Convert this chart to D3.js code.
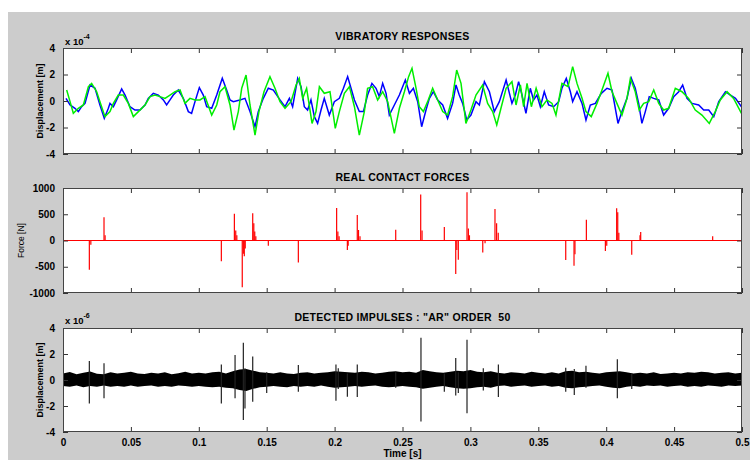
<!DOCTYPE html>
<html><head><meta charset="utf-8">
<script src="https://cdn.jsdelivr.net/npm/d3@7/dist/d3.min.js"></script>
<style>
body{margin:0;background:#fff}
svg{display:block}
text{font-family:"Liberation Sans",Arial,sans-serif;fill:#000;white-space:pre}
</style>
</head><body>
<svg id="chart" width="750" height="460"></svg>
<script>
// ---------- DATA ----------
const timeTicks = [0, 0.05, 0.1, 0.15, 0.2, 0.25, 0.3, 0.35, 0.4, 0.45, 0.5];
const timeTickLabels = ["0", "0.05", "0.1", "0.15", "0.2", "0.25", "0.3", "0.35", "0.4", "0.45", "0.5"];
const dispTicks = [-4, -2, 0, 2, 4];
const dispTickLabels = ["-4", "-2", "0", "2", "4"];
const forceTicks = [-1000, -500, 0, 500, 1000];
const forceTickLabels = ["-1000", "-500", "0", "500", "1000"];
const titles = ["VIBRATORY RESPONSES", "REAL CONTACT FORCES", "DETECTED IMPULSES : \"AR\" ORDER  50"];

// vibratory responses, [time s, displacement x1e-4 m]
const blueResponse = [
[0.0022,0.20],[0.0052,-0.30],[0.0088,-0.55],[0.0113,-0.80],[0.0137,-0.43],[0.0162,-0.18],[0.0199,1.21],[0.0236,0.96],
[0.0272,-0.30],[0.0304,-1.31],[0.0334,-0.55],[0.0346,-0.18],[0.0371,-0.43],[0.0395,0.08],[0.0432,0.91],[0.0457,0.45],
[0.0493,-0.43],[0.0530,-0.68],[0.0567,-0.68],[0.0604,-0.30],[0.0628,0.20],[0.0665,0.58],[0.0702,0.45],[0.0739,0.08],
[0.0763,-0.30],[0.0788,0.08],[0.0812,0.45],[0.0849,0.83],[0.0886,0.20],[0.0923,-0.80],[0.0947,-0.93],[0.0972,-0.05],
[0.1004,1.01],[0.1033,0.45],[0.1058,-0.43],[0.1095,-0.55],[0.1132,0.45],[0.1173,1.71],[0.1205,0.83],[0.1230,0.08],
[0.1254,-0.05],[0.1303,0.08],[0.1340,0.20],[0.1377,-0.80],[0.1414,-1.94],[0.1438,-0.80],[0.1475,0.20],[0.1512,0.96],
[0.1549,0.83],[0.1598,0.08],[0.1635,-0.43],[0.1667,0.20],[0.1691,-0.43],[0.1728,1.71],[0.1753,1.08],[0.1777,-0.43],
[0.1801,-0.68],[0.1826,0.08],[0.1851,-1.18],[0.1875,-1.69],[0.1900,-0.68],[0.1924,0.20],[0.1961,-1.06],[0.1998,-0.05],
[0.2035,0.20],[0.2065,0.96],[0.2096,1.84],[0.2121,0.96],[0.2146,0.08],[0.2182,-0.80],[0.2212,-0.80],[0.2243,0.45],
[0.2275,1.33],[0.2305,0.96],[0.2329,0.33],[0.2354,1.33],[0.2379,0.58],[0.2403,-1.06],[0.2440,-0.30],[0.2477,0.45],
[0.2521,1.58],[0.2551,0.58],[0.2580,0.96],[0.2612,-0.05],[0.2641,-1.94],[0.2673,-0.68],[0.2698,0.20],[0.2727,0.70],
[0.2759,0.08],[0.2796,-0.30],[0.2832,-1.31],[0.2869,-0.18],[0.2894,1.21],[0.2918,0.45],[0.2943,-0.18],[0.2973,-1.43],
[0.3004,-1.06],[0.3041,-0.05],[0.3066,-0.30],[0.3103,1.46],[0.3140,0.70],[0.3176,-0.80],[0.3213,-0.05],[0.3263,1.58],
[0.3306,-0.18],[0.3331,0.45],[0.3355,1.46],[0.3380,0.45],[0.3409,-0.93],[0.3441,0.96],[0.3465,0.08],[0.3490,0.45],
[0.3515,-0.43],[0.3544,0.70],[0.3576,-0.30],[0.3613,-0.43],[0.3650,-0.05],[0.3674,0.96],[0.3706,1.71],[0.3736,0.70],
[0.3753,-0.05],[0.3785,0.70],[0.3822,-0.18],[0.3851,-1.43],[0.3883,-0.30],[0.3920,-0.18],[0.3964,0.58],[0.4006,0.96],
[0.4043,0.83],[0.4087,-1.69],[0.4116,-0.80],[0.4153,0.20],[0.4185,1.71],[0.4214,0.96],[0.4239,-0.18],[0.4263,-1.69],
[0.4288,-0.80],[0.4317,0.33],[0.4350,0.20],[0.4387,0.08],[0.4423,-1.06],[0.4460,-0.55],[0.4497,0.33],[0.4534,0.70],
[0.4563,1.21],[0.4595,0.20],[0.4632,-0.18],[0.4681,-0.30],[0.4718,-0.68],[0.4755,-0.68],[0.4792,-1.18],[0.4829,-0.05],
[0.4878,0.70],[0.4915,0.45],[0.4952,0.20],[0.4996,-0.43]
];
const greenResponse = [
[0.0027,0.83],[0.0052,-0.05],[0.0076,-0.93],[0.0113,-0.55],[0.0150,-0.30],[0.0187,1.08],[0.0211,1.33],[0.0248,0.70],
[0.0272,-0.05],[0.0309,-1.18],[0.0346,-0.80],[0.0371,-0.18],[0.0407,0.45],[0.0444,0.45],[0.0481,-0.18],[0.0518,-1.18],
[0.0555,-0.80],[0.0604,-0.30],[0.0641,0.33],[0.0677,0.45],[0.0714,0.33],[0.0751,0.20],[0.0788,0.45],[0.0825,0.70],
[0.0862,0.83],[0.0898,-0.18],[0.0935,0.20],[0.0972,0.08],[0.1009,0.08],[0.1046,0.33],[0.1095,-1.06],[0.1132,-0.30],
[0.1156,0.70],[0.1193,1.08],[0.1230,-0.30],[0.1259,-2.19],[0.1291,-0.80],[0.1316,0.96],[0.1348,1.96],[0.1377,-0.30],
[0.1414,-2.57],[0.1443,-0.80],[0.1480,0.70],[0.1524,1.84],[0.1561,0.96],[0.1598,-0.05],[0.1635,-0.55],[0.1679,-0.05],
[0.1716,1.21],[0.1740,1.71],[0.1765,0.20],[0.1794,0.96],[0.1834,-1.69],[0.1863,-0.80],[0.1888,1.08],[0.1924,0.58],
[0.1966,0.70],[0.2005,-2.06],[0.2035,-0.80],[0.2072,0.58],[0.2109,1.08],[0.2146,-0.43],[0.2182,-2.57],[0.2219,-0.80],
[0.2243,0.96],[0.2280,1.08],[0.2317,0.08],[0.2354,0.70],[0.2391,-0.05],[0.2440,-2.44],[0.2477,-0.55],[0.2514,0.70],
[0.2545,1.84],[0.2570,2.47],[0.2600,0.96],[0.2624,-0.43],[0.2654,-0.80],[0.2685,-0.05],[0.2722,0.96],[0.2759,0.08],
[0.2796,-0.80],[0.2832,-1.06],[0.2869,0.33],[0.2899,2.34],[0.2931,1.33],[0.2967,-1.69],[0.3004,-0.68],[0.3041,0.45],
[0.3090,1.21],[0.3127,-0.18],[0.3164,-0.80],[0.3194,-1.81],[0.3225,-0.55],[0.3263,0.96],[0.3306,1.46],[0.3336,-0.30],
[0.3368,1.21],[0.3392,-0.43],[0.3417,1.33],[0.3449,-0.43],[0.3484,0.96],[0.3527,-0.43],[0.3564,0.08],[0.3601,-0.18],
[0.3630,-1.06],[0.3674,1.33],[0.3719,1.08],[0.3753,2.59],[0.3785,1.33],[0.3822,0.20],[0.3851,-0.80],[0.3890,-1.18],
[0.3932,-0.18],[0.3969,0.83],[0.4013,2.09],[0.4043,0.70],[0.4079,-0.18],[0.4116,-1.06],[0.4153,0.20],[0.4178,1.71],
[0.4214,0.70],[0.4243,-0.68],[0.4276,-0.18],[0.4313,-0.05],[0.4350,0.83],[0.4387,-0.18],[0.4423,-0.68],[0.4460,-0.55],
[0.4509,0.96],[0.4558,0.70],[0.4607,0.20],[0.4656,-0.68],[0.4705,-1.06],[0.4759,-1.69],[0.4803,-0.80],[0.4840,0.08],
[0.4890,0.70],[0.4938,0.20],[0.4996,-0.93]
];

// real contact forces, [time s, force N]
const contactForces = [
[0.0194,-558],[0.0205,-80],[0.0302,444],[0.0310,100],[0.1166,-394],[0.1262,508],[0.1272,190],[0.1280,100],
[0.1320,-889],[0.1328,-250],[0.1335,-300],[0.1342,-150],[0.1397,520],[0.1405,330],[0.1412,170],[0.1420,80],
[0.1512,-100],[0.1733,-420],[0.2015,617],[0.2024,170],[0.2033,80],[0.2094,-180],[0.2100,-100],[0.2167,487],
[0.2176,200],[0.2187,80],[0.2450,205],[0.2634,876],[0.2644,190],[0.2808,255],[0.2892,-640],[0.2900,-180],
[0.2911,-368],[0.2975,920],[0.2985,230],[0.2993,100],[0.3091,-230],[0.3108,-50],[0.3181,600],[0.3193,330],
[0.3205,150],[0.3702,-370],[0.3763,-480],[0.3770,-260],[0.3854,395],[0.3994,-200],[0.4004,-100],[0.4077,615],
[0.4085,540],[0.4093,150],[0.4188,-270],[0.4249,100],[0.4254,160],[0.4784,80]
];

// detected impulses: residual noise band (x1e-6 m) sampled every 2.5 ms, plus spikes
const bandUpper = [
0.5,0.62,0.45,0.55,0.66,0.48,0.44,0.6,0.5,0.56,0.64,0.5,0.46,0.55,0.5,0.6,0.45,0.52,0.64,0.5,
0.56,0.5,0.6,0.64,0.5,0.68,0.8,0.85,0.72,0.6,0.55,0.5,0.6,0.5,0.46,0.55,0.6,0.5,0.55,0.6,
0.68,0.64,0.6,0.55,0.64,0.6,0.5,0.55,0.64,0.68,0.6,0.64,0.55,0.76,0.68,0.6,0.55,0.64,0.72,0.68,
0.76,0.64,0.6,0.68,0.55,0.5,0.6,0.55,0.5,0.64,0.55,0.5,0.6,0.5,0.68,0.72,0.6,0.64,0.55,0.5,
0.6,0.64,0.68,0.6,0.5,0.55,0.5,0.6,0.46,0.5,0.55,0.5,0.6,0.55,0.64,0.6,0.5,0.55,0.6,0.5,0.55
];
const bandLower = [
-0.46,-0.52,-0.42,-0.56,-0.46,-0.52,-0.42,-0.52,-0.46,-0.52,-0.42,-0.52,-0.46,-0.42,-0.52,-0.46,-0.52,-0.42,-0.46,-0.52,
-0.46,-0.52,-0.56,-0.52,-0.6,-0.64,-0.76,-0.85,-0.68,-0.56,-0.52,-0.46,-0.52,-0.56,-0.46,-0.52,-0.46,-0.52,-0.42,-0.52,
-0.6,-0.56,-0.52,-0.46,-0.52,-0.46,-0.42,-0.52,-0.56,-0.52,-0.46,-0.52,-0.56,-0.68,-0.6,-0.52,-0.46,-0.56,-0.64,-0.68,
-0.64,-0.56,-0.52,-0.6,-0.46,-0.42,-0.52,-0.46,-0.42,-0.52,-0.46,-0.42,-0.52,-0.46,-0.6,-0.64,-0.56,-0.52,-0.46,-0.42,
-0.52,-0.6,-0.64,-0.52,-0.46,-0.52,-0.42,-0.46,-0.42,-0.52,-0.46,-0.42,-0.52,-0.46,-0.52,-0.42,-0.46,-0.52,-0.42,-0.46,-0.42
];
// [time s, positive peak, negative peak] (x1e-6 m)
const impulseSpikes = [
[0.0194,1.46,-1.8],[0.0302,1.28,-1.4],[0.1166,1.2,-1.8],[0.1267,1.92,-1.4],[0.1328,2.87,-3.08],[0.1340,0.9,-2.2],
[0.1397,1.8,-1.67],[0.1500,0.6,-1.0],[0.1733,1.15,-0.9],[0.2010,1.2,-1.6],[0.2027,0.9,-0.7],[0.2094,0.5,-1.28],
[0.2167,1.2,-1.3],[0.2450,0.6,-0.6],[0.2636,3.25,-3.2],[0.2808,0.5,-0.9],[0.2892,1.7,-1.2],[0.2911,0.6,-1.0],
[0.2975,3.1,-2.56],[0.3095,0.9,-0.8],[0.3206,1.2,-1.3],[0.3702,0.95,-0.9],[0.3765,0.85,-1.15],[0.3851,1.1,-0.6],
[0.4082,1.6,-1.4],[0.4188,0.5,-0.7]
];

// ---------- DRAW ----------
const svg = d3.select("#chart");
svg.append("rect").attr("x", 8).attr("y", 12).attr("width", 742).attr("height", 448).attr("fill", "#cccccc");

const X0 = 63, X1 = 742;
const x = d3.scaleLinear().domain([0, 0.5]).range([X0, X1]);
const panels = [
  {top: 48, bottom: 154, domain: [-4, 4], ticks: dispTicks, labels: dispTickLabels, title: titles[0], titleY: 40},
  {top: 188, bottom: 293, domain: [-1000, 1000], ticks: forceTicks, labels: forceTickLabels, title: titles[1], titleY: 180.5},
  {top: 328, bottom: 432, domain: [-4, 4], ticks: dispTicks, labels: dispTickLabels, title: titles[2], titleY: 320.5}
];
panels.forEach(p => { p.y = d3.scaleLinear().domain(p.domain).range([p.bottom, p.top]); });

function frame(p) {
  svg.append("rect").attr("x", X0).attr("y", p.top).attr("width", X1 - X0).attr("height", p.bottom - p.top)
    .attr("fill", "#fff");
}
function decorate(p, showXLabels) {
  const g = svg.append("g");
  const tl = 5;
  const ax = g.append("g").attr("transform", `translate(0,${p.bottom})`)
    .call(d3.axisBottom(x).tickValues(timeTicks).tickSize(-tl).tickPadding(7)
      .tickFormat((d, i) => showXLabels ? timeTickLabels[i] : ""));
  const at = g.append("g").attr("transform", `translate(0,${p.top})`)
    .call(d3.axisTop(x).tickValues(timeTicks).tickSize(-tl).tickFormat(""));
  const ay = g.append("g").attr("transform", `translate(${X0},0)`)
    .call(d3.axisLeft(p.y).tickValues(p.ticks).tickSize(-tl).tickPadding(8)
      .tickFormat((d, i) => p.labels[i]));
  const ar = g.append("g").attr("transform", `translate(${X1},0)`)
    .call(d3.axisRight(p.y).tickValues(p.ticks).tickSize(-tl).tickFormat(""));
  [ax, at, ay, ar].forEach(a => {
    a.select(".domain").remove();
    a.selectAll(".tick line").attr("stroke", "#333");
    a.selectAll("text").attr("font-family", "Liberation Sans, Arial, sans-serif")
      .attr("font-size", 10).attr("font-weight", "bold").attr("fill", "#000");
  });
  g.append("rect").attr("x", X0 + 0.5).attr("y", p.top + 0.5).attr("width", X1 - X0 - 1)
    .attr("height", p.bottom - p.top - 1).attr("fill", "none").attr("stroke", "#444").attr("stroke-width", 1);
  svg.append("text").attr("x", (X0 + X1) / 2).attr("y", p.titleY).attr("text-anchor", "middle")
    .attr("font-size", 10.5).attr("font-weight", "bold").attr("letter-spacing", 0.3).text(p.title);
}

// Panel 1
const p1 = panels[0];
frame(p1);
const line1 = d3.line().x(d => x(d[0])).y(d => p1.y(d[1]));
svg.append("clipPath").attr("id", "c1").append("rect")
  .attr("x", X0).attr("y", p1.top).attr("width", X1 - X0).attr("height", p1.bottom - p1.top);
svg.append("path").datum(blueResponse).attr("d", line1).attr("fill", "none")
  .attr("stroke", "#0000ff").attr("stroke-width", 1.5).attr("clip-path", "url(#c1)");
svg.append("path").datum(greenResponse).attr("d", line1).attr("fill", "none")
  .attr("stroke", "#00ee00").attr("stroke-width", 1.5).attr("clip-path", "url(#c1)");
decorate(p1, false);

// Panel 2
const p2 = panels[1];
frame(p2);
svg.append("line").attr("x1", X0).attr("x2", X1).attr("y1", p2.y(0)).attr("y2", p2.y(0))
  .attr("stroke", "#ff0000").attr("stroke-width", 1);
svg.append("g").selectAll("line").data(contactForces).join("line")
  .attr("x1", d => x(d[0])).attr("x2", d => x(d[0]))
  .attr("y1", p2.y(0)).attr("y2", d => p2.y(d[1]))
  .attr("stroke", "#ff0000").attr("stroke-width", 1.2);
decorate(p2, false);

// Panel 3
const p3 = panels[2];
frame(p3);
const bandTimes = d3.range(bandUpper.length).map(i => i * 0.5 / (bandUpper.length - 1));
const area3 = d3.area().x((d, i) => x(bandTimes[i])).y0((d, i) => p3.y(bandLower[i])).y1(d => p3.y(d));
svg.append("path").datum(bandUpper).attr("d", area3).attr("fill", "#000");
svg.append("g").selectAll("line").data(impulseSpikes).join("line")
  .attr("x1", d => x(d[0])).attr("x2", d => x(d[0]))
  .attr("y1", d => p3.y(d[2])).attr("y2", d => p3.y(d[1]))
  .attr("stroke", "#222").attr("stroke-width", 1.2);
decorate(p3, true);

// exponent labels
function expLabel(yb, exp) {
  const t = svg.append("text").attr("x", 65).attr("y", yb).attr("font-size", 9.5).attr("font-weight", "bold");
  t.append("tspan").text("x 10");
  t.append("tspan").attr("dy", -6).attr("font-size", 7).text(exp);
}
expLabel(44.5, "-4");
expLabel(323.5, "-6");

// axis labels
svg.append("text").attr("transform", `translate(43,${(p1.top + p1.bottom) / 2}) rotate(-90)`)
  .attr("text-anchor", "middle").attr("font-size", 9).attr("font-weight", "bold").text("Displacement [m]");
svg.append("text").attr("transform", `translate(24,${(p2.top + p2.bottom) / 2}) rotate(-90)`)
  .attr("text-anchor", "middle").attr("font-size", 8.5).text("Force [N]");
svg.append("text").attr("transform", `translate(43,${(p3.top + p3.bottom) / 2}) rotate(-90)`)
  .attr("text-anchor", "middle").attr("font-size", 9).attr("font-weight", "bold").text("Displacement [m]");
svg.append("text").attr("x", (X0 + X1) / 2).attr("y", 457).attr("text-anchor", "middle")
  .attr("font-size", 10).attr("font-weight", "bold").text("Time [s]");
</script>
</body></html>
